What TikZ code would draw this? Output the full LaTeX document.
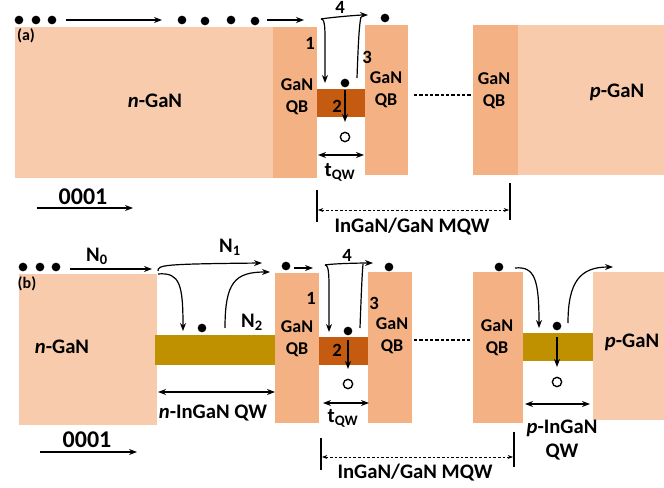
\documentclass[tikz,border=0pt]{standalone}
\usepackage{fontspec}
\setmainfont{Carlito}
\usetikzlibrary{arrows.meta}

\definecolor{nGaNfill}{HTML}{F8CBAD}
\definecolor{qbfill}{HTML}{F4B183}
\definecolor{qwfill}{HTML}{C55A11}
\definecolor{inqwfill}{HTML}{BF9000}

\tikzset{
  arr/.style={-{Stealth[length=6pt,width=4.5pt]},line width=0.9pt},
  dblarr/.style={{Stealth[length=6pt,width=4.5pt]}-{Stealth[length=6pt,width=4.5pt]},line width=1pt},
  dasharr/.style={{Stealth[length=4pt,width=3pt]}-{Stealth[length=4pt,width=3pt]},line width=0.6pt,dash pattern=on 2pt off 1.5pt},
  bar/.style={line width=1pt},
  dot/.style={circle,fill=black,inner sep=0pt,minimum size=6.5pt},
  hole/.style={circle,draw=black,line width=1pt,inner sep=0pt,minimum size=7pt},
  lbl/.style={font=\fontsize{13.5}{16.5}\selectfont\bfseries,align=center,inner sep=0pt},
  num/.style={font=\fontsize{14}{16}\selectfont\bfseries,inner sep=0pt},
  big/.style={font=\fontsize{15.5}{17.5}\selectfont\bfseries,align=center,inner sep=0pt},
  axis/.style={font=\fontsize{18}{20}\selectfont\bfseries,inner sep=0pt},
  panel/.style={font=\fontsize{12}{14}\selectfont\bfseries,inner sep=0pt}
}

\begin{document}
\begin{tikzpicture}[x=0.75pt,y=-0.75pt]
  \useasboundingbox (0,0) rectangle (664,488);

  % ---------------- (a) ----------------
  % Layers
  \fill[nGaNfill] (15,27) rectangle (273,178);
  \fill[qbfill] (273,27) rectangle (317,178);
  \fill[qwfill] (317,89) rectangle (365,117);
  \fill[qbfill] (365,25) rectangle (408,175);
  \fill[qbfill] (473,25) rectangle (518,175);
  \fill[nGaNfill] (518,25) rectangle (664,175);

  % Labels
  \node[panel] (alab) at (26,36) {(a)};
  \node[big] (anGaN) at (155,101) {\textit{n}-GaN};
  \node[lbl] (aqbA) at (297,97) {GaN\\QB};
  \node[lbl] (aqbB) at (386,90) {GaN\\QB};
  \node[lbl] (aqbC) at (494,91) {GaN\\QB};
  \node[big] (apGaN) at (617,92) {\textit{p}-GaN};
  \node[num] (aone) at (310,43) {1};
  \node[num] (atwo) at (337,106) {2};
  \node[num] (athree) at (367,57) {3};
  \node[num] (afour) at (340,7) {4};

  % Electrons
  \foreach \x [count=\i] in {19,36,52} {
    \node[dot] (ae\i) at (\x,20) {};
  }
  \foreach \x/\y [count=\i] in {182/20,205/21,231/20,255/21} {
    \node[dot] (af\i) at (\x,\y) {};
  }
  \node[dot] (aqbe) at (385,18) {};
  \node[dot] (awe) at (345,83) {};
  \node[hole] (ah) at (345,137) {};

  % Transport arrows
  \coordinate (aa1) at (66,20);   \coordinate (aa2) at (162,20);
  \coordinate (ab1) at (267,20);  \coordinate (ab2) at (304,20);
  \draw[arr] (aa1) -- (aa2);
  \draw[arr] (ab1) -- (ab2);
  \coordinate (a4s) at (321,19);  \coordinate (a4e) at (368,15);
  \draw[arr] (a4s) to[out=10,in=180,looseness=0.5] (a4e);
  \coordinate (a1e) at (325,83);
  \draw[arr] (a4s) .. controls (326,19) and (325,30) .. (a1e);
  \coordinate (a3s) at (357,78);  \coordinate (a3e) at (361,17);
  \draw[line width=0.9pt] (a3s) .. controls (358,50) and (359,25) .. (a3e);
  \coordinate (awd) at (345,122);
  \draw[arr] (awe.south) ++(0,2) coordinate (awd0) (awd0) -- (awd);

  % Dashed continuation
  \coordinate (adl1) at (414,95); \coordinate (adl2) at (471,95);
  \draw[line width=0.8pt,dash pattern=on 2.5pt off 1.5pt] (adl1) -- (adl2);

  % Well width
  \coordinate (at1) at (318,155); \coordinate (at2) at (364,155);
  \draw[dblarr] (at1) -- (at2);
  \node[big] (atqw) at (340,172) {t\textsubscript{QW}};

  % MQW span
  \coordinate (am1) at (317,190); \coordinate (am2) at (317,222);
  \coordinate (am3) at (510,183); \coordinate (am4) at (510,220);
  \draw[bar] (am1) -- (am2);
  \draw[bar] (am3) -- (am4);
  \coordinate (am5) at (318,210); \coordinate (am6) at (509,210);
  \draw[dasharr] (am5) -- (am6);
  \node[big] (amqw) at (412,227) {InGaN/GaN MQW};

  % Growth direction
  \node[axis] (adir) at (83,197) {0001};
  \coordinate (ad1) at (37,208); \coordinate (ad2) at (133,208);
  \draw[arr] (ad1) -- (ad2);

  % ---------------- (b) ----------------
  % Layers
  \fill[nGaNfill] (19,274) rectangle (157,425);
  \fill[inqwfill] (155,335) rectangle (275,365);
  \fill[qbfill] (275,273) rectangle (319,423);
  \fill[qwfill] (319,337) rectangle (368,365);
  \fill[qbfill] (368,272) rectangle (412,423);
  \fill[qbfill] (473,272) rectangle (523,423);
  \fill[inqwfill] (523,333) rectangle (595,361);
  \fill[nGaNfill] (593,272) rectangle (664,420);

  % Labels
  \node[panel] (blab) at (27,284) {(b)};
  \node[big] (bnGaN) at (62,347) {\textit{n}-GaN};
  \node[lbl] (bqbA) at (297,339) {GaN\\QB};
  \node[lbl] (bqbB) at (392,336) {GaN\\QB};
  \node[lbl] (bqbC) at (497,338) {GaN\\QB};
  \node[big] (bpGaN) at (632,342) {\textit{p}-GaN};
  \node[big] (bnzero) at (97,256) {N\textsubscript{0}};
  \node[big] (bnone) at (230,247) {N\textsubscript{1}};
  \node[big] (bntwo) at (252,322) {N\textsubscript{2}};
  \node[num] (bone) at (311,298) {1};
  \node[num] (btwo) at (337,350) {2};
  \node[num] (bthree) at (374,303) {3};
  \node[num] (bfour) at (347,255) {4};

  % Electrons and holes
  \foreach \x [count=\i] in {23,40,56} {
    \node[dot] (be\i) at (\x,267) {};
  }
  \node[dot] (bne) at (202,328) {};
  \node[dot] (bqe) at (286,266) {};
  \node[dot] (bwe) at (348,331) {};
  \node[dot] (bqbe) at (389,267) {};
  \node[dot] (bpqe) at (499,267) {};
  \node[dot] (bpe) at (557,326) {};
  \node[hole] (bh) at (348,384) {};
  \node[hole] (bph) at (557,382) {};

  % Transport arrows
  \coordinate (bz1) at (70,269);  \coordinate (bz2) at (152,269);
  \draw[arr] (bz1) -- (bz2);
  \coordinate (bo1) at (158,271); \coordinate (bo2) at (262,263);
  \draw[arr] (bo1) .. controls (158,265) and (162,264) .. (bo2);
  \coordinate (bc1) at (158,274); \coordinate (bc2) at (183,331);
  \draw[arr] (bc1) .. controls (180,272) and (183,285) .. (bc2);
  \coordinate (bu1) at (225,328); \coordinate (bu2) at (270,272);
  \draw[arr] (bu1) .. controls (225,282) and (235,272) .. (bu2);
  \coordinate (bq1) at (294,268); \coordinate (bq2) at (313,268);
  \draw[arr] (bq1) -- (bq2);
  \coordinate (b4s) at (325,265); \coordinate (b4e) at (373,263);
  \draw[arr] (b4s) to[out=10,in=180,looseness=0.5] (b4e);
  \coordinate (b1e) at (329,332);
  \draw[arr] (b4s) .. controls (330,265) and (329,280) .. (b1e);
  \coordinate (b3s) at (360,328); \coordinate (b3e) at (363,264);
  \draw[line width=0.9pt] (b3s) .. controls (361,300) and (362,275) .. (b3e);
  \coordinate (bwd1) at (348,340); \coordinate (bwd2) at (348,369);
  \draw[arr] (bwd1) -- (bwd2);
  \coordinate (bp1) at (515,268); \coordinate (bp2) at (539,328);
  \draw[arr] (bp1) .. controls (535,266) and (539,280) .. (bp2);
  \coordinate (bpu1) at (568,323); \coordinate (bpu2) at (613,267);
  \draw[arr] (bpu1) .. controls (568,282) and (580,267) .. (bpu2);
  \coordinate (bpd1) at (557,337); \coordinate (bpd2) at (557,367);
  \draw[arr] (bpd1) -- (bpd2);

  % Dashed continuation
  \coordinate (bdl1) at (414,340); \coordinate (bdl2) at (470,340);
  \draw[line width=0.8pt,dash pattern=on 2.5pt off 1.5pt] (bdl1) -- (bdl2);

  % Well widths
  \coordinate (bn1) at (158,392); \coordinate (bn2) at (275,392);
  \draw[dblarr] (bn1) -- (bn2);
  \node[big] (bnqw) at (213,413) {\textit{n}-InGaN QW};
  \coordinate (bt1) at (323,403); \coordinate (bt2) at (369,403);
  \draw[dblarr] (bt1) -- (bt2);
  \node[big] (btqw) at (343,418) {t\textsubscript{QW}};
  \coordinate (bpw1) at (525,404); \coordinate (bpw2) at (590,404);
  \draw[dblarr] (bpw1) -- (bpw2);
  \node[big] (bpqw) at (562,440) {\textit{p}-InGaN\\[1pt]QW};

  % MQW span
  \coordinate (bm1) at (321,438); \coordinate (bm2) at (321,470);
  \coordinate (bm3) at (514,432); \coordinate (bm4) at (514,467);
  \draw[bar] (bm1) -- (bm2);
  \draw[bar] (bm3) -- (bm4);
  \coordinate (bm5) at (322,457); \coordinate (bm6) at (513,457);
  \draw[dasharr] (bm5) -- (bm6);
  \node[big] (bmqw) at (415,473) {InGaN/GaN MQW};

  % Growth direction
  \node[axis] (bdir) at (87,440) {0001};
  \coordinate (bd1) at (40,452); \coordinate (bd2) at (137,452);
  \draw[arr] (bd1) -- (bd2);
\end{tikzpicture}
\end{document}
